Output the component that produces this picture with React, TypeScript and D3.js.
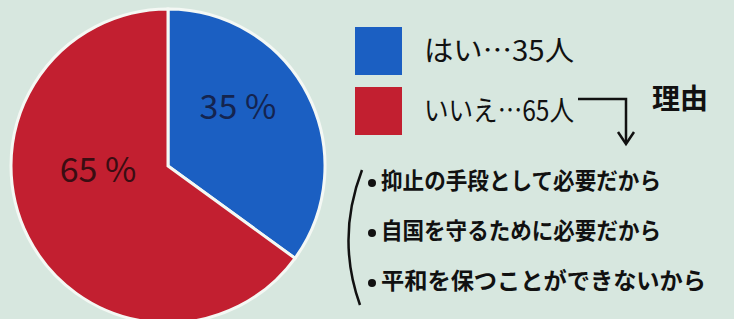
import React from 'react';
import * as d3 from 'd3';

// survey answers
const categories = ['はい', 'いいえ'];
const values = [35, 65];
const colors = ['#1b5fc2', '#c21f30'];
const labelColors = ['#14244f', '#3a0d12'];
const reasonTitle = '理由';
const reasons = [
  '抑止の手段として必要だから',
  '自国を守るために必要だから',
  '平和を保つことができないから',
];

const W = 734;
const H = 319;
const FONT = '"Noto Sans CJK JP", "Noto Sans", sans-serif';

const App: React.FC = () => {
  const total = d3.sum(values);
  const cx = 168;
  const cy = 166;
  const r = 157;

  const pie = d3.pie<number>().sort(null).value(d => d);
  const arcs = pie(values);
  const arc = d3.arc<d3.PieArcDatum<number>>().innerRadius(0).outerRadius(r);
  const labelShift = [[0, -21], [0, -29]]; // hand-placed label nudges

  // legend rows
  const legendY = d3.scaleBand<number>().domain(d3.range(categories.length)).range([27, 135]).paddingInner(0.2);
  // reason rows
  const reasonY = d3.scaleBand<number>().domain(d3.range(reasons.length)).range([158, 308]);
  const reasonWidths = [280, 280, 325];

  return (
    <div>
      <style>{'body{margin:0}'}</style>
      <svg width={W} height={H} style={{ display: 'block', background: '#d7e7df' }}>
        <g transform={`translate(${cx},${cy})`}>
          {arcs.map((a, i) => (
            <path key={i} d={arc(a) || ''} fill={colors[i]} stroke="#f4f8f4" strokeWidth={3} />
          ))}
          {arcs.map((a, i) => {
            const [lx, ly] = arc.centroid(a);
            const pct = Math.round((values[i] / total) * 100);
            return (
              <text
                key={'l' + i}
                x={lx + labelShift[i][0]}
                y={ly + labelShift[i][1]}
                textAnchor="middle"
                dominantBaseline="middle"
                fontFamily={FONT}
                fontSize={34}
                fill={labelColors[i]}
              >
                {`${pct} %`}
              </text>
            );
          })}
        </g>

        {/* Legend */}
        {categories.map((c, i) => (
          <g key={c}>
            <rect x={355} y={legendY(i)!} width={47} height={legendY.bandwidth()} fill={colors[i]} />
            <text
              x={424}
              y={legendY(i)! + legendY.bandwidth() / 2 + 2}
              dominantBaseline="middle"
              fontFamily={FONT}
              fontSize={28}
              fill="#111"
              textLength={150}
              lengthAdjust="spacingAndGlyphs"
            >
              {`${c}…${values[i]}人`}
            </text>
          </g>
        ))}

        {/* Arrow to reasons */}
        <path d="M578,99 L626,99 L626,142" fill="none" stroke="#111" strokeWidth={2.5} />
        <path d="M618,132 L626,144 L634,132" fill="none" stroke="#111" strokeWidth={2.5} />
        <text x={652} y={101} dominantBaseline="middle" fontFamily={FONT} fontSize={28} fontWeight={700} fill="#111">
          {reasonTitle}
        </text>

        {/* Bracket */}
        <path d="M362,170 Q336,238 360,305" fill="none" stroke="#111" strokeWidth={2.5} />

        {reasons.map((t, i) => (
          <g key={t}>
            <circle cx={372} cy={reasonY(i)! + reasonY.bandwidth() / 2} r={4} fill="#111" />
            <text
              x={381}
              y={reasonY(i)! + reasonY.bandwidth() / 2}
              dominantBaseline="middle"
              fontFamily={FONT}
              fontSize={23}
              fontWeight={700}
              fill="#111"
              textLength={reasonWidths[i]}
              lengthAdjust="spacingAndGlyphs"
            >
              {t}
            </text>
          </g>
        ))}
      </svg>
    </div>
  );
};

export default App;
